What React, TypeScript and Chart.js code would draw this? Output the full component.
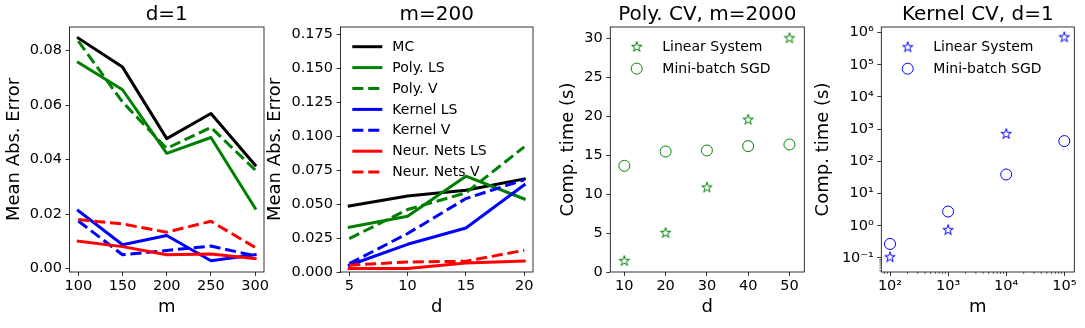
import React, { useEffect, useRef } from 'react';
import { Chart, registerables } from 'chart.js';
Chart.register(...registerables);

const FONT = '"DejaVu Sans", "Liberation Sans", sans-serif';
const H = 328;

// ---------- Panel 1: d=1 ----------
const mValues = [100, 150, 200, 250, 300];
const d1MC = [0.0845, 0.0739, 0.0477, 0.0569, 0.038];
const d1PolyLS = [0.0756, 0.0656, 0.0423, 0.0481, 0.0222];
const d1PolyV = [0.0834, 0.0611, 0.0441, 0.0518, 0.0362];
const d1KernelLS = [0.0213, 0.0088, 0.0122, 0.0029, 0.0051];
const d1KernelV = [0.0175, 0.0051, 0.0067, 0.0083, 0.0047];
const d1NNLS = [0.0101, 0.0081, 0.0051, 0.0054, 0.0037];
const d1NNV = [0.018, 0.0164, 0.0134, 0.0174, 0.0078];
const p1XTicks = [100, 150, 200, 250, 300];
const p1YTicks = [0, 0.02, 0.04, 0.06, 0.08];

// ---------- Panel 2: m=200 ----------
const dValues = [5, 10, 15, 20];
const m200MC = [0.0487, 0.056, 0.0602, 0.0686];
const m200PolyLS = [0.033, 0.0411, 0.0706, 0.0538];
const m200PolyV = [0.0246, 0.046, 0.0583, 0.0922];
const m200KernelLS = [0.005, 0.0204, 0.0324, 0.0642];
const m200KernelV = [0.0062, 0.0283, 0.0541, 0.068];
const m200NNLS = [0.0025, 0.0025, 0.0066, 0.0081];
const m200NNV = [0.005, 0.0074, 0.0079, 0.016];
const p2XTicks = [5, 10, 15, 20];
const p2YTicks = [0, 0.025, 0.05, 0.075, 0.1, 0.125, 0.15, 0.175];

const seriesLabels = ['MC', 'Poly. LS', 'Poly. V', 'Kernel LS', 'Kernel V', 'Neur. Nets LS', 'Neur. Nets V'];
const seriesColors = ['#000000', '#008000', '#008000', '#0000ff', '#0000ff', '#ff0000', '#ff0000'];
const seriesDashed = [false, false, true, false, true, false, true];

// ---------- Panel 3: Poly. CV, m=2000 ----------
const dPoly = [10, 20, 30, 40, 50];
const polyLinearTime = [1.41, 5.01, 10.84, 19.54, 30.0];
const polySGDTime = [13.63, 15.47, 15.6, 16.16, 16.37];
const p3XTicks = [10, 20, 30, 40, 50];
const p3YTicks = [0, 5, 10, 15, 20, 25, 30];

// ---------- Panel 4: Kernel CV, d=1 ----------
const mKernel = [100, 1000, 10000, 100000];
const kernelLinearTime = [0.105, 0.73, 708, 710000];
const kernelSGDTime = [0.273, 2.77, 39.2, 427];
const p4XTicks = [100, 1000, 10000, 100000];
const p4YTicks = [0.1, 1, 10, 100, 1000, 10000, 100000, 1000000];

const scatterLabels = ['Linear System', 'Mini-batch SGD'];

const TICK_SIZE = 14.5;

const SUP: Record<string, string> = { '-': '\u207b', '0': '\u2070', '1': '\u00b9', '2': '\u00b2', '3': '\u00b3', '4': '\u2074', '5': '\u2075', '6': '\u2076' };
const powLabel = (v: number) => '10' + String(Math.round(Math.log10(v))).split('').map((c) => SUP[c] || c).join('');

function makeStar(color: string, R: number): HTMLCanvasElement {
  const size = 16;
  const c = document.createElement('canvas');
  c.width = size;
  c.height = size;
  const g = c.getContext('2d')!;
  const cx = size / 2;
  const cy = size / 2;
  const r = R * 0.381966;
  g.beginPath();
  for (let i = 0; i < 10; i++) {
    const a = Math.PI / 2 + (i * Math.PI) / 5;
    const rad = i % 2 === 0 ? R : r;
    const x = cx + rad * Math.cos(a);
    const y = cy - rad * Math.sin(a);
    if (i === 0) g.moveTo(x, y);
    else g.lineTo(x, y);
  }
  g.closePath();
  g.strokeStyle = color;
  g.lineWidth = 1;
  g.lineJoin = 'miter';
  g.stroke();
  return c;
}

const mplPlugin = {
  id: 'mpl',
  afterDatasetsDraw(chart: any, _args: any, opts: any) {
    const { ctx, chartArea: a } = chart;
    ctx.save();
    ctx.strokeStyle = '#000';
    ctx.lineWidth = 0.6;
    if (opts.minorX) {
      const sx = chart.scales.x;
      opts.minorX.forEach((v: number) => {
        const px = sx.getPixelForValue(v);
        if (px < a.left || px > a.right) return;
        ctx.beginPath();
        ctx.moveTo(px, a.bottom);
        ctx.lineTo(px, a.bottom + 2);
        ctx.stroke();
      });
    }
    if (opts.minorY) {
      const sy = chart.scales.y;
      opts.minorY.forEach((v: number) => {
        const py = sy.getPixelForValue(v);
        if (py < a.top || py > a.bottom) return;
        ctx.beginPath();
        ctx.moveTo(a.left, py);
        ctx.lineTo(a.left - 2, py);
        ctx.stroke();
      });
    }
    ctx.lineWidth = 0.8;
    ctx.strokeRect(a.left, a.top, a.right - a.left, a.bottom - a.top);
    ctx.restore();
  },
  afterDraw(chart: any, _args: any, opts: any) {
    const lg = opts.legend;
    if (!lg) return;
    const { ctx, chartArea: a } = chart;
    ctx.save();
    ctx.font = `14px ${FONT}`;
    chart.data.datasets.forEach((ds: any, i: number) => {
      const cy = a.top + lg.top + i * lg.step;
      const hx = a.left + lg.left;
      if (ds.showLine === false) {
        const ps = ds.pointStyle;
        const mx = hx + lg.handle / 2;
        if (ps && typeof ps === 'object') {
          ctx.drawImage(ps, mx - ps.width / 2, cy - ps.height / 2);
        } else {
          ctx.beginPath();
          ctx.arc(mx, cy, ds.pointRadius, 0, Math.PI * 2);
          ctx.strokeStyle = ds.borderColor;
          ctx.lineWidth = ds.borderWidth;
          ctx.stroke();
        }
      } else {
        ctx.beginPath();
        ctx.setLineDash(ds.borderDash || []);
        ctx.lineWidth = ds.borderWidth;
        ctx.strokeStyle = ds.borderColor;
        ctx.lineCap = 'butt';
        ctx.moveTo(hx, cy);
        ctx.lineTo(hx + lg.handle, cy);
        ctx.stroke();
        ctx.setLineDash([]);
      }
      ctx.fillStyle = '#000';
      ctx.textBaseline = 'middle';
      ctx.textAlign = 'left';
      ctx.fillText(ds.label, a.left + lg.text, cy + 0.5);
    });
    ctx.restore();
  },
};

type AxisP = {
  type?: string;
  min: number;
  max: number;
  ticks: number[];
  fmt: (v: number) => string;
  title: string;
  y: boolean;
  fitSize: number;
  titlePad: number;
};

const mkAxis = (p: AxisP) => ({
  type: p.type || 'linear',
  position: p.y ? 'left' : 'bottom',
  min: p.min,
  max: p.max,
  bounds: 'data',
  afterBuildTicks: (s: any) => {
    s.ticks = p.ticks.map((v) => ({ value: v }));
  },
  afterFit: (s: any) => {
    if (p.y) s.width = p.fitSize;
    else s.height = p.fitSize;
  },
  ticks: {
    callback: (v: any) => p.fmt(Number(v)),
    font: { family: FONT, size: TICK_SIZE },
    color: '#000',
    padding: p.y ? 3.5 : 1.2,
    autoSkip: false,
    maxRotation: 0,
    minRotation: 0,
  },
  grid: {
    display: true,
    drawOnChartArea: false,
    drawTicks: true,
    tickLength: 4,
    tickWidth: 0.8,
    tickColor: '#000',
    color: '#000',
  },
  border: { display: false },
  title: {
    display: true,
    text: p.title,
    color: '#000',
    font: { family: FONT, size: 18, lineHeight: 1 },
    padding: p.y ? { top: p.titlePad, bottom: 0 } : { top: 0, bottom: p.titlePad },
  },
});

const titleOpts = (text: string) => ({
  display: true,
  text,
  color: '#000',
  fullSize: false,
  font: { family: FONT, size: 20, weight: 'normal', lineHeight: 1 },
  padding: { top: 5, bottom: 2 },
});

const lineDatasets = (xs: number[], series: number[][]) =>
  series.map((vals, i) => ({
    label: seriesLabels[i],
    data: xs.map((x, j) => ({ x, y: vals[j] })),
    borderColor: seriesColors[i],
    backgroundColor: seriesColors[i],
    borderWidth: 3,
    borderDash: seriesDashed[i] ? [11.1, 4.8] : [],
    borderCapStyle: seriesDashed[i] ? 'butt' : 'square',
    borderJoinStyle: 'round',
    pointRadius: 0,
    pointHoverRadius: 0,
    fill: false,
    tension: 0,
    order: series.length - i,
  }));

const baseOptions = (padRight: number) => ({
  responsive: false,
  maintainAspectRatio: false,
  animation: false,
  devicePixelRatio: 1,
  events: [],
  layout: { padding: { left: 0, top: 0, right: padRight, bottom: 0 } },
});

type PanelCfg = { left: number; width: number; make: () => any };

const panels: PanelCfg[] = [
  {
    left: 0,
    width: 280,
    make: () => ({
      type: 'line',
      data: { datasets: lineDatasets(mValues, [d1MC, d1PolyLS, d1PolyV, d1KernelLS, d1KernelV, d1NNLS, d1NNV]) },
      options: {
        ...baseOptions(280 - 264),
        plugins: { legend: { display: false }, tooltip: { enabled: false }, title: titleOpts('d=1'), mpl: {} },
        scales: {
          x: mkAxis({ min: 90, max: 310, ticks: p1XTicks, fmt: (v) => String(v), title: 'm', y: false, fitSize: 56, titlePad: 11.9 }),
          y: mkAxis({ min: -0.0012, max: 0.0886, ticks: p1YTicks, fmt: (v) => v.toFixed(2), title: 'Mean Abs. Error', y: true, fitSize: 69.5, titlePad: 5.2 }),
        },
      },
      plugins: [mplPlugin],
    }),
  },
  {
    left: 262,
    width: 285,
    make: () => ({
      type: 'line',
      data: { datasets: lineDatasets(dValues, [m200MC, m200PolyLS, m200PolyV, m200KernelLS, m200KernelV, m200NNLS, m200NNV]) },
      options: {
        ...baseOptions(262 + 285 - 533),
        plugins: {
          legend: { display: false },
          tooltip: { enabled: false },
          title: titleOpts('m=200'),
          mpl: { legend: { left: 11.8, handle: 30, text: 51.8, top: 19.7, step: 20.9 } },
        },
        scales: {
          x: mkAxis({ min: 4.25, max: 20.75, ticks: p2XTicks, fmt: (v) => String(v), title: 'd', y: false, fitSize: 56, titlePad: 11.9 }),
          y: mkAxis({ min: 0, max: 0.1805, ticks: p2YTicks, fmt: (v) => v.toFixed(3), title: 'Mean Abs. Error', y: true, fitSize: 78.5, titlePad: 4.2 }),
        },
      },
      plugins: [mplPlugin],
    }),
  },
  {
    left: 555,
    width: 265,
    make: () => {
      const green = '#008000';
      return {
        type: 'scatter',
        data: {
          datasets: [
            {
              label: scatterLabels[0],
              data: dPoly.map((x, i) => ({ x, y: polyLinearTime[i] })),
              showLine: false,
              pointStyle: makeStar(green, 5.5),
              pointRadius: 5.5,
              pointHoverRadius: 5.5,
              borderColor: green,
              borderWidth: 1,
              backgroundColor: 'rgba(0,0,0,0)',
            },
            {
              label: scatterLabels[1],
              data: dPoly.map((x, i) => ({ x, y: polySGDTime[i] })),
              showLine: false,
              pointStyle: 'circle',
              pointRadius: 5.5,
              pointHoverRadius: 5.5,
              borderColor: green,
              borderWidth: 1,
              backgroundColor: 'rgba(0,0,0,0)',
            },
          ],
        },
        options: {
          ...baseOptions(555 + 265 - 804.3),
          plugins: {
            legend: { display: false },
            tooltip: { enabled: false },
            title: titleOpts('Poly. CV, m=2000'),
            mpl: { legend: { left: 11.4, handle: 30, text: 52, top: 20, step: 21.6 } },
          },
          scales: {
            x: mkAxis({ min: 6.6, max: 53.6, ticks: p3XTicks, fmt: (v) => String(v), title: 'd', y: false, fitSize: 56, titlePad: 11.9 }),
            y: mkAxis({ min: 0, max: 31.45, ticks: p3YTicks, fmt: (v) => String(v), title: 'Comp. time (s)', y: true, fitSize: 55.3, titlePad: 4.6 }),
          },
        },
        plugins: [mplPlugin],
      };
    },
  },
  {
    left: 810,
    width: 275,
    make: () => {
      const blue = '#0000ff';
      const minorX: number[] = [];
      for (let e = 1; e <= 5; e++) for (let k = 2; k <= 9; k++) minorX.push(k * Math.pow(10, e));
      const minorY: number[] = [];
      for (let k = 2; k <= 9; k++) minorY.push(k / 100);
      return {
        type: 'scatter',
        data: {
          datasets: [
            {
              label: scatterLabels[0],
              data: mKernel.map((x, i) => ({ x, y: kernelLinearTime[i] })),
              showLine: false,
              pointStyle: makeStar(blue, 5.5),
              pointRadius: 5.5,
              pointHoverRadius: 5.5,
              borderColor: blue,
              borderWidth: 1,
              backgroundColor: 'rgba(0,0,0,0)',
            },
            {
              label: scatterLabels[1],
              data: mKernel.map((x, i) => ({ x, y: kernelSGDTime[i] })),
              showLine: false,
              pointStyle: 'circle',
              pointRadius: 5.5,
              pointHoverRadius: 5.5,
              borderColor: blue,
              borderWidth: 1,
              backgroundColor: 'rgba(0,0,0,0)',
            },
          ],
        },
        options: {
          ...baseOptions(810 + 275 - 1074.3),
          plugins: {
            legend: { display: false },
            tooltip: { enabled: false },
            title: titleOpts('Kernel CV, d=1'),
            mpl: { legend: { left: 11.4, handle: 30, text: 52, top: 20.3, step: 21.4 }, minorX, minorY },
          },
          scales: {
            x: mkAxis({ type: 'logarithmic', min: 70.8, max: 148600, ticks: p4XTicks, fmt: powLabel, title: 'm', y: false, fitSize: 56, titlePad: 11.9 }),
            y: mkAxis({ type: 'logarithmic', min: 0.0367, max: 1490000, ticks: p4YTicks, fmt: powLabel, title: 'Comp. time (s)', y: true, fitSize: 71.3, titlePad: 3.9 }),
          },
        },
        plugins: [mplPlugin],
      };
    },
  },
];

function Panel({ cfg }: { cfg: PanelCfg }) {
  const ref = useRef<HTMLCanvasElement>(null);
  useEffect(() => {
    const chart = new Chart(ref.current as HTMLCanvasElement, cfg.make());
    return () => chart.destroy();
  }, [cfg]);
  return (
    <canvas
      ref={ref}
      width={cfg.width}
      height={H}
      style={{ position: 'absolute', left: cfg.left, top: 0, width: cfg.width, height: H }}
    />
  );
}

export default function App() {
  return (
    <div style={{ position: 'absolute', left: 0, top: 0, width: 1085, height: H, background: '#fff' }}>
      {panels.map((p, i) => (
        <Panel key={i} cfg={p} />
      ))}
    </div>
  );
}
